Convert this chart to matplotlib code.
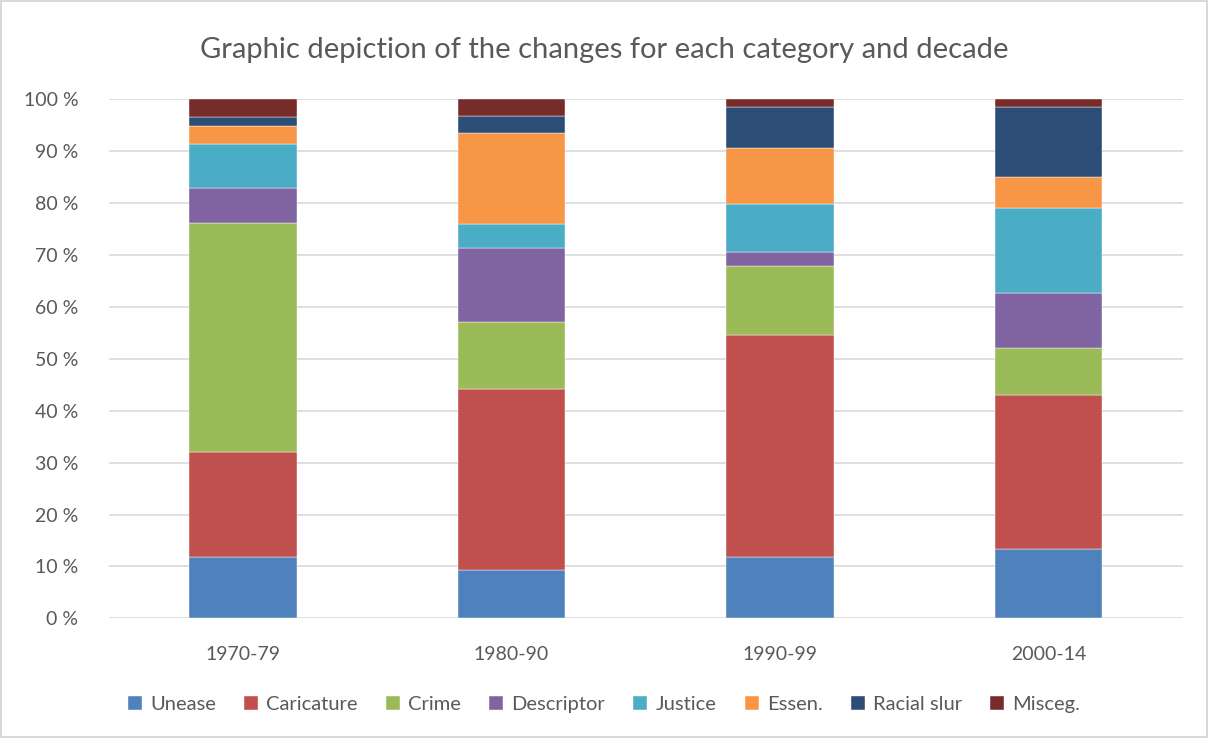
import matplotlib.pyplot as plt
import numpy as np
from matplotlib.ticker import FuncFormatter

plt.rcParams['font.family'] = ['Lato', 'DejaVu Sans']

DECADES = ['1970-79', '1980-90', '1990-99', '2000-14']
CATEGORIES = ['Unease', 'Caricature', 'Crime', 'Descriptor', 'Justice', 'Essen.', 'Racial slur', 'Misceg.']

# share (%) per category, one list per category, one value per decade
UNEASE = [11.8, 9.4, 11.8, 13.3]
CARICATURE = [20.2, 34.8, 42.7, 29.8]
CRIME = [44.2, 12.9, 13.4, 9.0]
DESCRIPTOR = [6.8, 14.2, 2.6, 10.5]
JUSTICE = [8.4, 4.7, 9.4, 16.4]
ESSEN = [3.5, 17.6, 10.7, 6.0]
RACIAL_SLUR = [1.6, 3.2, 8.0, 13.5]
MISCEG = [3.5, 3.2, 1.4, 1.5]

COLORS = ['#4F81BD', '#C0504D', '#9BBB59', '#8064A2',
          '#4BACC6', '#F79646', '#2C4D75', '#772C2A']
TEXT = '#595959'

series = [UNEASE, CARICATURE, CRIME, DESCRIPTOR, JUSTICE, ESSEN, RACIAL_SLUR, MISCEG]

fig = plt.figure(figsize=(12.08, 7.38), dpi=100)
fig.patch.set_edgecolor('#d9d9d9')
fig.patch.set_linewidth(1.5)
ax = fig.add_axes([0.09, 0.1622, 0.889, 0.7032])

x = np.arange(len(DECADES))
bottom = np.zeros(len(DECADES))
for name, vals, col in zip(CATEGORIES, series, COLORS):
    vals = np.array(vals)
    ax.bar(x, vals, 0.4, bottom=bottom, color=col, label=name,
           edgecolor='white', linewidth=0.3, zorder=3)
    bottom += vals

ax.set_xlim(-0.5, 3.5)
ax.set_ylim(0, 100)
ax.set_yticks(np.arange(0, 101, 10))
ax.yaxis.set_major_formatter(FuncFormatter(lambda v, p: f'{v:.0f} %'))
ax.set_xticks(x)
ax.set_xticklabels(DECADES)
ax.grid(axis='y', color='#d9d9d9', linewidth=1.2, zorder=0)
for s in ax.spines.values():
    s.set_visible(False)
ax.tick_params(length=0, labelsize=14, colors=TEXT)
ax.tick_params(axis='x', pad=20)
ax.tick_params(axis='y', pad=22)

fig.suptitle('Graphic depiction of the changes for each category and decade',
             y=0.95, fontsize=21, color=TEXT)

fig.legend(loc='center', bbox_to_anchor=(0.5, 0.045), ncol=8, frameon=False,
           fontsize=14.5, handlelength=0.7, handleheight=0.7, handletextpad=0.4,
           columnspacing=1.4, labelcolor=TEXT)

fig.savefig('out.png', dpi=100, edgecolor=fig.get_edgecolor())
